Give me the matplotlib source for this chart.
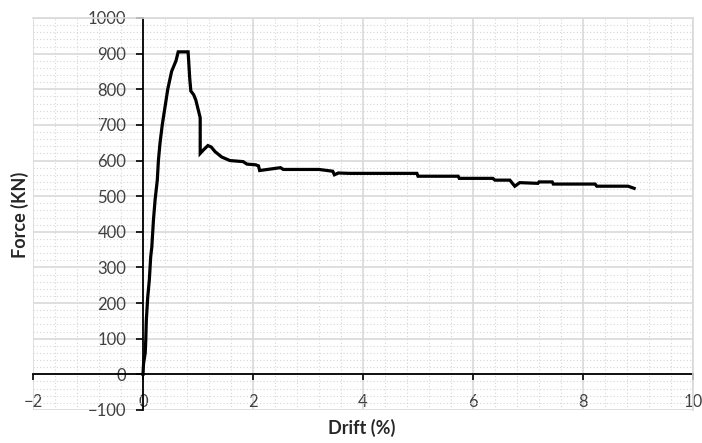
import numpy as np
import matplotlib.pyplot as plt
from matplotlib.ticker import MultipleLocator

# force vs drift curve
drift = [0.0, 0.01, 0.04, 0.05, 0.06, 0.085, 0.115, 0.14, 0.16, 0.19, 0.22,
         0.26, 0.28, 0.31, 0.35, 0.40, 0.45, 0.52, 0.60, 0.64, 0.82, 0.85,
         0.87, 0.92, 0.96, 1.00, 1.04, 1.04, 1.10, 1.18, 1.24, 1.31, 1.43,
         1.58, 1.82, 1.89, 2.05, 2.10, 2.12, 2.50, 2.55, 3.20, 3.45, 3.48,
         3.55, 3.76, 4.98, 5.00, 5.73, 5.75, 6.36, 6.40, 6.67, 6.76, 6.85,
         7.18, 7.20, 7.44, 7.46, 8.22, 8.25, 8.82, 8.93]
force = [0, 30, 60, 95, 150, 215, 265, 330, 357, 433, 490,
         545, 600, 650, 700, 750, 800, 850, 880, 905, 905, 830,
         795, 785, 770, 745, 720, 620, 630, 642, 638, 625, 610,
         600, 597, 590, 588, 585, 572, 580, 575, 575, 570, 560,
         565, 564, 564, 556, 556, 550, 550, 545, 545, 528, 538,
         536, 540, 540, 534, 534, 528, 528, 522]

x_ticks = [-2, 0, 2, 4, 6, 8, 10]
y_ticks = [-100, 0, 100, 200, 300, 400, 500, 600, 700, 800, 900, 1000]

plt.rcParams['font.family'] = ['Lato', 'DejaVu Sans']

fig = plt.figure(figsize=(7.02, 4.43), dpi=100)
ax = fig.add_axes([33 / 702, 1 - 410 / 443, 660 / 702, 392 / 443])

ax.plot(drift, force, color='black', linewidth=2.3, solid_joinstyle='miter', zorder=3)

ax.set_xlim(-2, 10)
ax.set_ylim(-100, 1000)
ax.set_xticks(x_ticks)
ax.set_yticks(y_ticks)
ax.xaxis.set_minor_locator(MultipleLocator(0.4))
ax.yaxis.set_minor_locator(MultipleLocator(20))

# grid like the spreadsheet chart
ax.grid(which='major', color='#d9d9d9', linewidth=1.2, linestyle='-', zorder=1)
ax.grid(which='minor', color='#d6d6d6', linewidth=0.8, linestyle=(0, (1, 2)), zorder=0)
ax.set_axisbelow(True)

ax.spines['left'].set_position(('data', 0))
ax.spines['bottom'].set_position(('data', 0))
for s in ['left', 'bottom']:
    ax.spines[s].set_color('black')
    ax.spines[s].set_linewidth(1.3)
    ax.spines[s].set_zorder(2)
for s in ['top', 'right']:
    ax.spines[s].set_color('#d9d9d9')
    ax.spines[s].set_linewidth(1.2)

ax.tick_params(which='minor', length=0)
ax.tick_params(axis='y', which='major', direction='out', length=5, width=1.2,
               labelsize=12, labelcolor='#404040', pad=7)
ax.tick_params(axis='x', which='major', direction='out', length=4, width=1.2,
               labelsize=12, labelcolor='#404040', pad=10)

fig.text(20 / 702, 1 - 215 / 443, 'Force (KN)', rotation=90, fontsize=13,
         fontweight='bold', color='#262626', ha='center', va='center')
fig.text(362 / 702, 1 - 428 / 443, 'Drift (%)', fontsize=13,
         fontweight='bold', color='#262626', ha='center', va='center')

fig.savefig('out.png', dpi=100)
